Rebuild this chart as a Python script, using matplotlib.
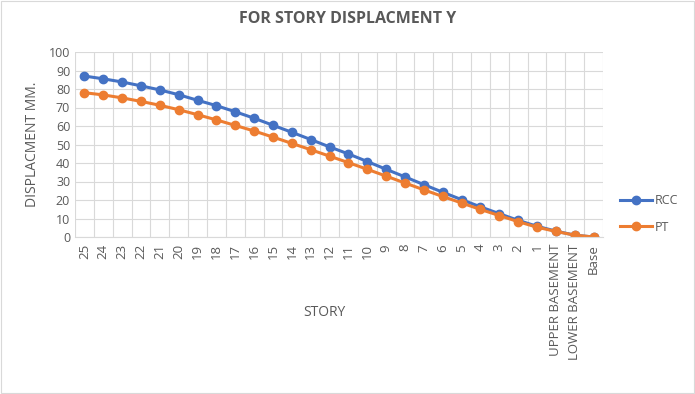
import numpy as np
import matplotlib
matplotlib.use("Agg")
from matplotlib import pyplot as plt

# story labels, top to base
stories = [str(i) for i in range(25, 0, -1)] + ["UPPER BASEMENT", "LOWER BASEMENT", "Base"]

# displacement in mm
rcc = [87.0, 85.5, 83.8, 81.7, 79.5, 76.9, 73.9, 71.0, 67.7, 64.2, 60.4, 56.6, 52.7, 48.7,
       44.9, 40.8, 36.6, 32.5, 28.3, 24.2, 20.2, 16.3, 12.6, 9.0, 5.8, 3.2, 1.0, 0.0]
pt = [78.0, 76.8, 75.2, 73.3, 71.2, 68.8, 66.1, 63.3, 60.3, 57.3, 54.0, 50.6, 47.2, 43.7,
      40.2, 36.6, 32.9, 29.2, 25.5, 21.9, 18.4, 14.9, 11.6, 8.3, 5.3, 3.0, 1.0, 0.0]

plt.rcParams['font.family'] = ['Open Sans', 'DejaVu Sans']
txt = '#595959'

fig = plt.figure(figsize=(6.95, 3.94), dpi=100)
ax = fig.add_axes([75 / 695, 1 - 237 / 394, 528 / 695, 185 / 394])

x = np.arange(len(stories))
ax.plot(x, rcc, color='#4472C4', lw=2.2, marker='o', ms=6, label='RCC')
ax.plot(x, pt, color='#ED7D31', lw=2.2, marker='o', ms=6, label='PT')

ax.set_xlim(-0.5, len(stories) - 0.5)
ax.set_ylim(0, 100)
ax.set_yticks(range(0, 101, 10))
ax.set_xticks(x)
ax.set_xticklabels(stories, rotation=90, fontsize=9.5, color=txt)
ax.tick_params(axis='y', labelsize=9, colors=txt, length=0)
ax.tick_params(axis='x', length=0, pad=5)

# gridlines between categories
ax.set_xticks(np.arange(len(stories) + 1) - 0.5, minor=True)
ax.grid(True, which='minor', axis='x', color='#D9D9D9', lw=0.8)
ax.grid(True, which='major', axis='y', color='#D9D9D9', lw=0.8)
ax.tick_params(which='minor', length=0)
ax.set_axisbelow(True)
for s in ax.spines.values():
    s.set_visible(False)
ax.spines['bottom'].set_visible(True)
ax.spines['bottom'].set_color('#D9D9D9')

ax.set_ylabel('DISPLACMENT MM.', fontsize=10, color=txt, labelpad=6)
fig.text(324 / 695, 1 - 312 / 394, 'STORY', fontsize=10, color=txt, ha='center', va='center')
fig.text(348 / 695, 1 - 19 / 394, 'FOR STORY DISPLACMENT Y', fontsize=11.5, color=txt,
         fontweight='bold', ha='center', va='center')

ax.legend(loc='center left', bbox_to_anchor=(1.01, 0.125), frameon=False, fontsize=9,
          labelcolor=txt, handlelength=2.6, labelspacing=1.1, handletextpad=0.2)

fig.patches.append(plt.Rectangle((0.001, 0.002), 0.997, 0.996, transform=fig.transFigure,
                                 fill=False, edgecolor='#D9D9D9', lw=0.8))

fig.savefig('out.png', dpi=100)
